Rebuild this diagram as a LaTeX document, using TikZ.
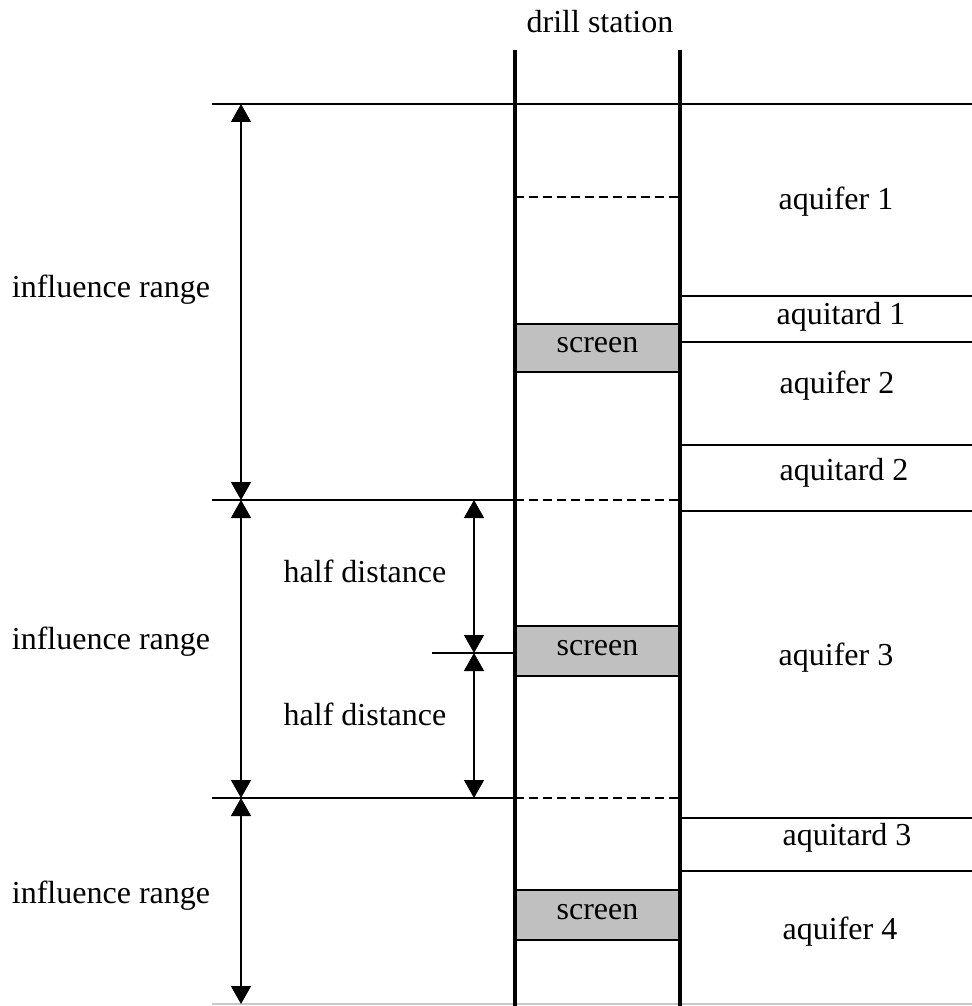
\documentclass[tikz,border=0pt]{standalone}
\usepackage{fontspec}
\setmainfont{Liberation Serif}
\usetikzlibrary{arrows.meta}
\definecolor{scr}{RGB}{192,192,192}
\definecolor{faint}{RGB}{200,200,200}
\begin{document}
\begin{tikzpicture}[x=0.5pt,y=-0.5pt,
  well/.style={line width=1.6pt},
  thinline/.style={line width=0.75pt},
  dashline/.style={line width=0.75pt,dash pattern=on 4.5pt off 2.5pt},
  dim/.style={line width=0.75pt,{Triangle[length=9pt,width=10pt]}-{Triangle[length=9pt,width=10pt]}},
  lbl/.style={font=\fontsize{16}{19}\selectfont, inner sep=0pt, anchor=base},
  screenbox/.style={draw,line width=0.8pt,fill=scr,font=\fontsize{16}{19}\selectfont,
    minimum width=82.5pt,inner sep=0pt,text height=4.5pt,text depth=0pt}]
\useasboundingbox (0,0) rectangle (972,1006);
% screens
\node[screenbox,minimum height=24pt] (s1) at (597.5,348) {screen};
\node[screenbox,minimum height=25pt] (s2) at (597.5,651) {screen};
\node[screenbox,minimum height=25pt] (s3) at (597.5,915) {screen};
% horizontal lines
\draw[thinline] (212,104) -- (972,104);
\draw[dashline] (515,197) -- (680,197);
\draw[thinline] (680,296) -- (972,296);
\draw[thinline] (680,342) -- (972,342);
\draw[thinline] (680,445) -- (972,445);
\draw[thinline] (212,500) -- (515,500);
\draw[dashline] (515,500) -- (680,500);
\draw[thinline] (680,511) -- (972,511);
\draw[thinline] (432,653) -- (515,653);
\draw[thinline] (212,798) -- (515,798);
\draw[dashline] (515,798) -- (680,798);
\draw[thinline] (680,818) -- (972,818);
\draw[thinline] (680,871) -- (972,871);
\draw[line width=0.75pt,faint] (212,1004) -- (972,1004);
% wells
\draw[well] (515,50) -- (515,1006);
\draw[well] (680,50) -- (680,1006);
% dimension coordinates
\coordinate (L0) at (241,104);
\coordinate (L1) at (241,500);
\coordinate (L2) at (241,798);
\coordinate (L3) at (241,1004);
\coordinate (H0) at (474,500);
\coordinate (Hm) at (474,653);
\coordinate (H1) at (474,798);
\draw[dim] (L0) -- (L1);
\draw[dim] (L1) -- (L2);
\draw[dim] (L2) -- (L3);
\draw[dim] (H0) -- (Hm);
\draw[dim] (Hm) -- (H1);
% labels (placed on their baselines)
\node[lbl] (ds) at (600,33) {drill station};
\node[lbl] (ir1) at (111,297) {influence range};
\node[lbl] (ir2) at (111,649) {influence range};
\node[lbl] (ir3) at (111,903) {influence range};
\node[lbl] (hd1) at (365,582) {half distance};
\node[lbl] (hd2) at (365,725) {half distance};
\node[lbl] (aq1) at (836,209) {aquifer 1};
\node[lbl] (at1) at (841,324) {aquitard 1};
\node[lbl] (aq2) at (837,393) {aquifer 2};
\node[lbl] (at2) at (844,480) {aquitard 2};
\node[lbl] (aq3) at (836,665) {aquifer 3};
\node[lbl] (at3) at (847,845) {aquitard 3};
\node[lbl] (aq4) at (840,939) {aquifer 4};
\end{tikzpicture}
\end{document}
